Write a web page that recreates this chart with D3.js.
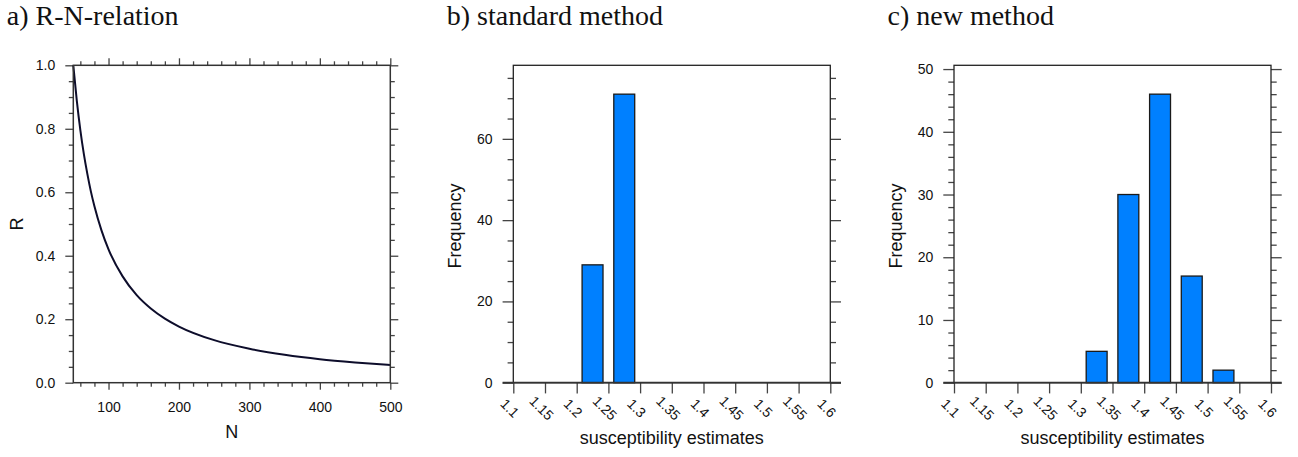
<!DOCTYPE html>
<html>
<head>
<meta charset="utf-8">
<script src="https://cdn.jsdelivr.net/npm/d3@7"></script>
<style>
  body { margin: 0; background: #fff; }
  text { font-family: "Liberation Sans", Arial, sans-serif; fill: #111; }
  .title { font-family: "Liberation Serif", "Times New Roman", serif; font-size: 28px; }
</style>
</head>
<body>
<div id="chart"></div>
<script>
// R-N relation
var rnN = [50, 55, 60, 65, 70, 75, 80, 90, 100, 120, 140, 160, 180, 200, 250, 300, 350, 400, 450, 500];
var rnR = [1.0, 0.888, 0.796, 0.72, 0.657, 0.602, 0.556, 0.48, 0.42, 0.335, 0.276, 0.234, 0.202, 0.177, 0.134, 0.107, 0.088, 0.074, 0.064, 0.056];

// histogram bins (left edges, width 0.05) and counts
var binStarts = [1.1, 1.15, 1.2, 1.25, 1.3, 1.35, 1.4, 1.45, 1.5, 1.55];
var stdCounts = [0, 0, 29, 71, 0, 0, 0, 0, 0, 0];
var newCounts = [0, 0, 0, 0, 5, 30, 46, 17, 2, 0];
var binTickLabels = ["1.1", "1.15", "1.2", "1.25", "1.3", "1.35", "1.4", "1.45", "1.5", "1.55", "1.6"];

var titles = ["a) R-N-relation", "b) standard method", "c) new method"];

(function() {
  var W = 1298, H = 457;
  var svg = d3.select('#chart').append('svg').attr('width', W).attr('height', H);

  var lefts = [73.3, 513.3, 954];
  var pw = 317, plotTop = 65.3, ph = 317.4, plotBottom = plotTop + ph;
  var tickColor = '#444';

  function clean(g) {
    g.select('.domain').remove();
    g.selectAll('line').attr('stroke', tickColor).attr('stroke-width', 1.3);
    g.selectAll('text').attr('font-size', 14).attr('fill', '#111');
  }

  // titles
  titles.forEach(function(t, i) {
    svg.append('text').attr('class', 'title')
      .attr('x', lefts[i] - 66.5).attr('y', 25).text(t);
  });

  // ---------- panel a ----------
  var L = lefts[0];
  var x = d3.scaleLinear().domain([50, 500]).range([L, L + pw]);
  var y = d3.scaleLinear().domain([0, 1]).range([plotBottom, plotTop]);

  var xMajor = [100, 200, 300, 400, 500];
  var xMinor = d3.range(60, 500, 20).filter(function(v) { return v % 100 !== 0; });
  var yMajor = [0, 0.2, 0.4, 0.6, 0.8, 1.0];
  var yMinor = [0.05, 0.1, 0.15, 0.25, 0.3, 0.35, 0.45, 0.5, 0.55, 0.65, 0.7, 0.75, 0.85, 0.9, 0.95];

  var g = svg.append('g');
  g.append('g').attr('transform', 'translate(0,' + plotBottom + ')')
    .call(d3.axisBottom(x).tickValues(xMajor).tickSize(7).tickPadding(12).tickFormat(d3.format('d'))).call(clean);
  g.append('g').attr('transform', 'translate(0,' + plotBottom + ')')
    .call(d3.axisBottom(x).tickValues(xMinor).tickSize(4).tickFormat('')).call(clean);
  g.append('g').attr('transform', 'translate(0,' + plotTop + ')')
    .call(d3.axisTop(x).tickValues(xMajor).tickSize(7).tickFormat('')).call(clean);
  g.append('g').attr('transform', 'translate(0,' + plotTop + ')')
    .call(d3.axisTop(x).tickValues(xMinor).tickSize(4).tickFormat('')).call(clean);
  g.append('g').attr('transform', 'translate(' + L + ',0)')
    .call(d3.axisLeft(y).tickValues(yMajor).tickSize(8).tickPadding(10).tickFormat(d3.format('.1f'))).call(clean);
  g.append('g').attr('transform', 'translate(' + L + ',0)')
    .call(d3.axisLeft(y).tickValues(yMinor).tickSize(4.5).tickFormat('')).call(clean);
  g.append('g').attr('transform', 'translate(' + (L + pw) + ',0)')
    .call(d3.axisRight(y).tickValues(yMajor).tickSize(8).tickFormat('')).call(clean);
  g.append('g').attr('transform', 'translate(' + (L + pw) + ',0)')
    .call(d3.axisRight(y).tickValues(yMinor).tickSize(4.5).tickFormat('')).call(clean);

  var line = d3.line()
    .x(function(d, i) { return x(rnN[i]); })
    .y(function(d) { return y(d); })
    .curve(d3.curveMonotoneX);
  g.append('path').datum(rnR).attr('d', line)
    .attr('fill', 'none').attr('stroke', '#0d0d2b').attr('stroke-width', 2);

  g.append('rect').attr('x', L).attr('y', plotTop).attr('width', pw).attr('height', ph)
    .attr('fill', 'none').attr('stroke', '#333').attr('stroke-width', 1.5);

  g.append('text').attr('x', L + pw / 2).attr('y', 438).attr('text-anchor', 'middle')
    .attr('font-size', 18).text('N');
  g.append('text').attr('transform', 'translate(23.3,' + (plotTop + ph / 2) + ') rotate(-90)')
    .attr('text-anchor', 'middle').attr('font-size', 18).text('R');

  // ---------- histogram panels ----------
  function histogram(L, counts, yMajor, yMinorStep) {
    var x = d3.scaleLinear().domain([1.1, 1.6]).range([L, L + pw]);
    var yMax = d3.max(counts) * 1.1;
    var y = d3.scaleLinear().domain([0, yMax]).range([plotBottom, plotTop]);
    var yMinor = d3.range(yMinorStep, yMax, yMinorStep).filter(function(v) { return yMajor.indexOf(v) < 0; });
    var binW = 0.05;
    var tickVals = binTickLabels.map(Number);

    var g = svg.append('g');

    g.append('g').attr('transform', 'translate(' + L + ',0)')
      .call(d3.axisLeft(y).tickValues(yMajor).tickSize(10.7).tickPadding(10).tickFormat(d3.format('d'))).call(clean);
    g.append('g').attr('transform', 'translate(' + L + ',0)')
      .call(d3.axisLeft(y).tickValues(yMinor).tickSize(5.7).tickFormat('')).call(clean);
    g.append('g').attr('transform', 'translate(' + (L + pw) + ',0)')
      .call(d3.axisRight(y).tickValues(yMajor).tickSize(10.7).tickFormat('')).call(clean);
    g.append('g').attr('transform', 'translate(' + (L + pw) + ',0)')
      .call(d3.axisRight(y).tickValues(yMinor).tickSize(5.7).tickFormat('')).call(clean);

    var xa = g.append('g').attr('transform', 'translate(0,' + plotBottom + ')')
      .call(d3.axisBottom(x).tickValues(tickVals).tickSize(10.7).tickFormat(function(d, i) { return binTickLabels[i]; }))
      .call(clean);
    xa.selectAll('text')
      .attr('y', 0).attr('dy', '0.35em')
      .attr('text-anchor', 'middle')
      .attr('transform', 'translate(-4,25.5) rotate(45)');

    var bw = x(binW) - x(0);
    g.selectAll('rect.bar').data(counts.map(function(c, i) { return { c: c, x0: binStarts[i] }; })
        .filter(function(d) { return d.c > 0; }))
      .enter().append('rect').attr('class', 'bar')
      .attr('x', function(d) { return x(d.x0 + binW / 2) - bw * 0.33; })
      .attr('width', bw * 0.66)
      .attr('y', function(d) { return y(d.c); })
      .attr('height', function(d) { return plotBottom - y(d.c); })
      .attr('fill', '#0080ff').attr('stroke', '#1a1a1a').attr('stroke-width', 1.3);

    g.append('rect').attr('x', L).attr('y', plotTop).attr('width', pw).attr('height', ph)
      .attr('fill', 'none').attr('stroke', '#222').attr('stroke-width', 1.3);
    g.append('line').attr('x1', L - 10.7).attr('x2', L + pw + 10.7)
      .attr('y1', plotBottom).attr('y2', plotBottom).attr('stroke', '#333').attr('stroke-width', 1.8);

    g.append('text').attr('x', L + pw / 2).attr('y', 444).attr('text-anchor', 'middle')
      .attr('font-size', 18).text('susceptibility estimates');
    g.append('text').attr('transform', 'translate(' + (L - 52.5) + ',' + 226 + ') rotate(-90)')
      .attr('text-anchor', 'middle').attr('font-size', 18).text('Frequency');
  }

  histogram(lefts[1], stdCounts, [0, 20, 40, 60], 5);
  histogram(lefts[2], newCounts, [0, 10, 20, 30, 40, 50], 2);
})();
</script>
</body>
</html>
